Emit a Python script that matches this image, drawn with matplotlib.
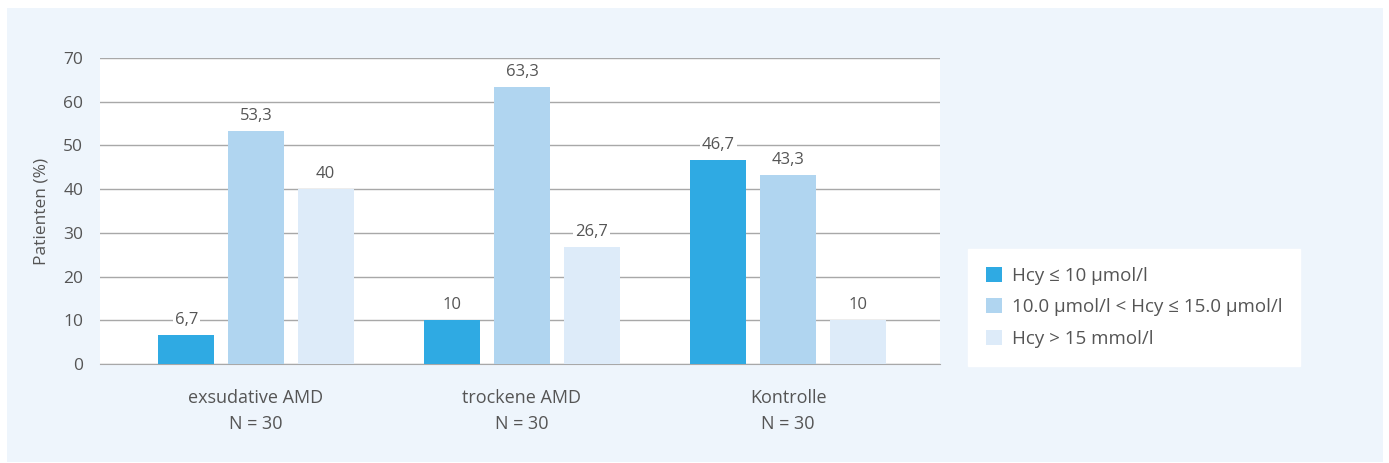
import matplotlib
matplotlib.use("Agg")
import matplotlib.pyplot as plt
import numpy as np

plt.rcParams['font.family'] = ['Open Sans', 'DejaVu Sans']

categories = ["exsudative AMD\nN = 30", "trockene AMD\nN = 30", "Kontrolle\nN = 30"]
series_names = ["Hcy ≤ 10 µmol/l", "10.0 µmol/l < Hcy ≤ 15.0 µmol/l", "Hcy > 15 mmol/l"]
low = [6.7, 10, 46.7]
mid = [53.3, 63.3, 43.3]
high = [40, 26.7, 10]
colors = ["#2FAAE3", "#B0D5F0", "#DDEBF9"]
yticks = [0, 10, 20, 30, 40, 50, 60, 70]

W, H = 1389, 463
fig = plt.figure(figsize=(W / 100, H / 100), dpi=100)
fig.patch.set_facecolor("white")

bg = fig.add_axes([7 / W, 1 - 462 / H, (1383 - 7) / W, (462 - 8) / H], zorder=-5)
bg.set_facecolor("#EEF5FC")
bg.set_xticks([])
bg.set_yticks([])
for s in bg.spines.values():
    s.set_visible(False)

ax = fig.add_axes([100 / W, 1 - 364 / H, (940 - 100) / W, (364 - 58) / H], zorder=1)
ax.set_facecolor("white")
x = np.arange(len(categories))
bw = 0.21
step = 0.262
text_col = "#555555"
for i, (vals, c, name) in enumerate(zip([low, mid, high], colors, series_names)):
    xs = x + (i - 1) * step
    ax.bar(xs, vals, width=bw, color=c, label=name, zorder=3)
    for xi, v in zip(xs, vals):
        lab = f"{v:g}".replace(".", ",")
        ax.text(xi, v + 1.6, lab, ha="center", va="bottom", fontsize=12, color=text_col,
                zorder=4, bbox=dict(facecolor="white", edgecolor="none", pad=1.5))

ax.set_ylim(0, 70)
ax.set_xlim(-0.586, 2.571)
ax.set_yticks(yticks)
ax.set_yticklabels([str(t) for t in yticks], fontsize=12.5, color=text_col)
ax.yaxis.grid(True, color="#A8A8A8", linewidth=1, zorder=1)
ax.set_axisbelow(True)
ax.tick_params(axis="y", length=0, pad=12)
ax.tick_params(axis="x", length=0, pad=18)
ax.set_xticks(x)
ax.set_xticklabels(categories, fontsize=13, color=text_col, linespacing=1.6)
for s in ["top", "right", "left"]:
    ax.spines[s].set_visible(False)
ax.spines["bottom"].set_color("#A8A8A8")
ax.set_ylabel("Patienten (%)", fontsize=12.5, color=text_col, labelpad=10)

leg = fig.legend(loc="upper left", bbox_to_anchor=(968 / W, 1 - 249 / H), frameon=True,
                 fontsize=13.5, handlelength=0.85, handleheight=0.85, handletextpad=0.55,
                 labelspacing=0.72, borderpad=0.95, borderaxespad=0, fancybox=False,
                 labelcolor=text_col)
leg.get_frame().set_edgecolor("white")
leg.get_frame().set_facecolor("white")
leg.get_frame().set_alpha(1)
leg.set_zorder(5)

fig.savefig("out.png", dpi=100, facecolor=fig.get_facecolor())
